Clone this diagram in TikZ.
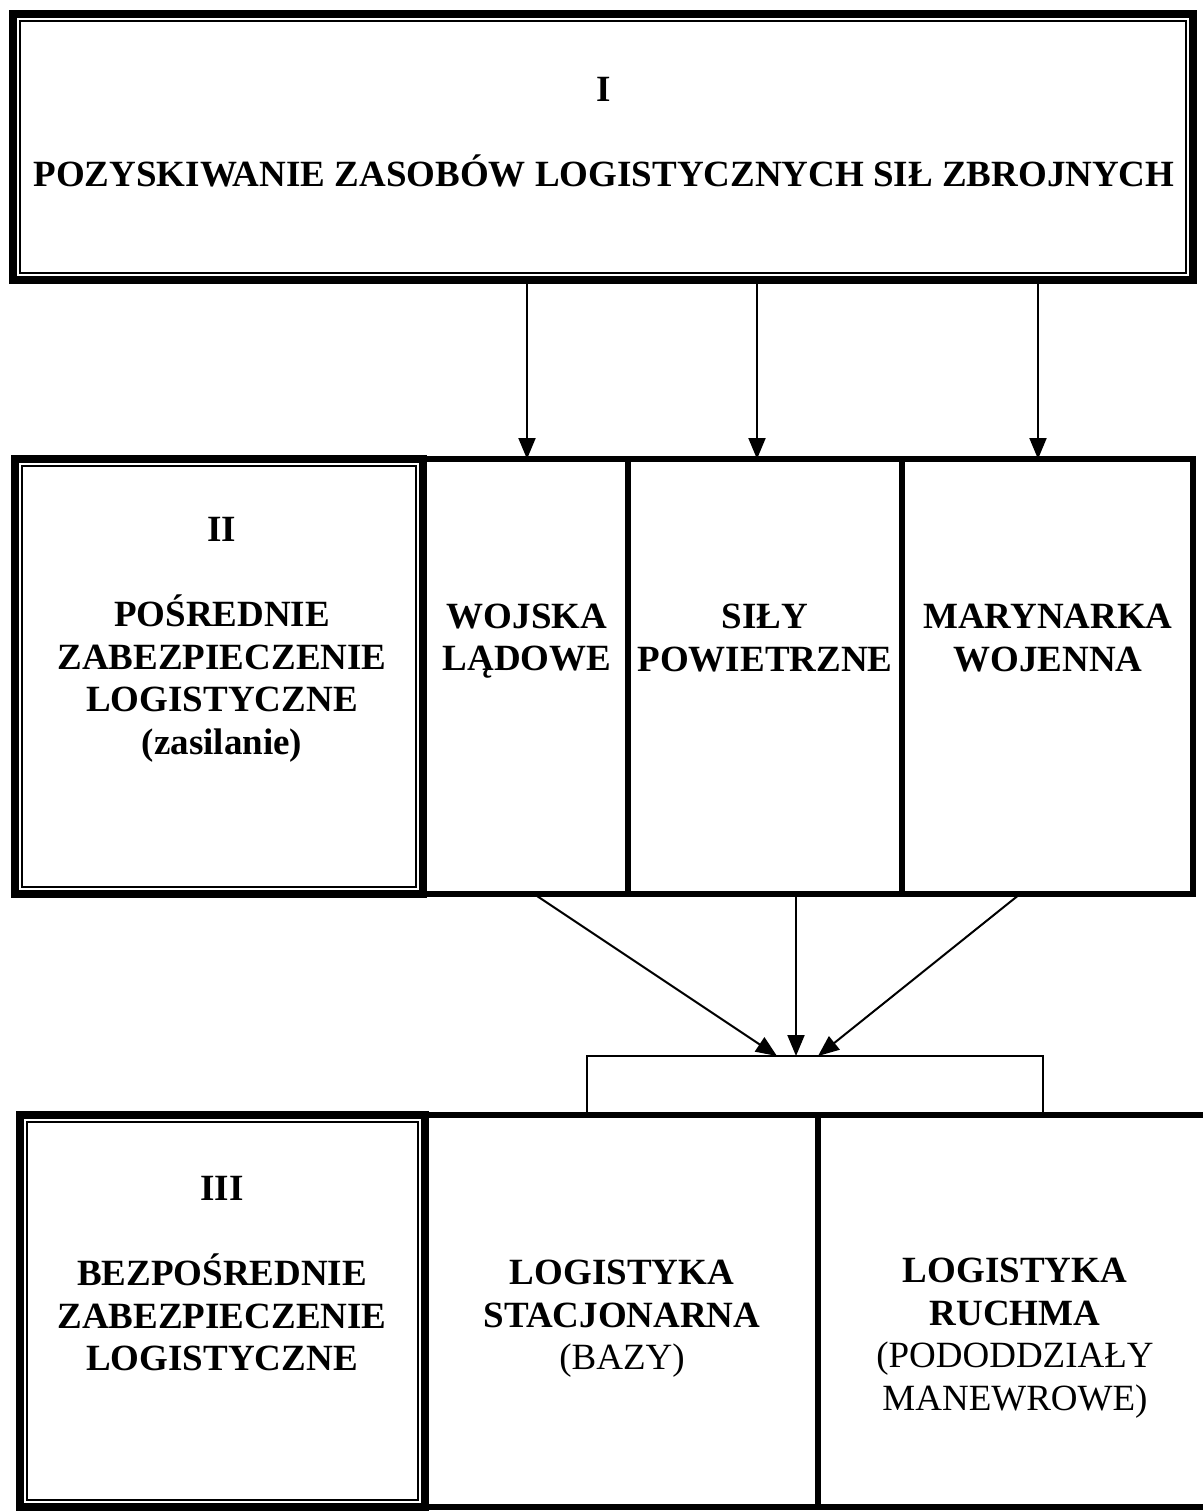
\documentclass[tikz,border=0pt]{standalone}
\usepackage{fontspec}
\setmainfont{Liberation Serif}
\usetikzlibrary{arrows.meta}

\begin{document}
\begin{tikzpicture}[x=1pt, y=-1pt,
    ramka/.style={draw, line width=7.5pt, inner sep=0pt, outer sep=0pt},
    pole/.style={draw, line width=6pt, inner sep=0pt, outer sep=0pt},
    maly/.style={draw, line width=1.4pt, inner sep=0pt, outer sep=0pt},
    napis/.style={align=center, inner sep=0pt, font=\fontsize{37}{42.5}\selectfont\bfseries},
    strz/.style={-{Triangle[length=21pt,width=17pt]}, line width=2pt}]
    \useasboundingbox (0,0) rectangle (1202,1511);
    % Level I
    \node[ramka, minimum width=1180pt, minimum height=266pt] (zasoby) at (603,147) {};
    \node[napis] (t1) at (604,132) {I\\[42.5pt]POZYSKIWANIE ZASOBÓW LOGISTYCZNYCH SIŁ ZBROJNYCH};
    % Level II
    \node[pole, minimum width=205pt, minimum height=435pt] (wojska) at (525.5,676.5) {};
    \node[pole, minimum width=274pt, minimum height=435pt] (sily) at (765,676.5) {};
    \node[pole, minimum width=291pt, minimum height=435pt] (marynarka) at (1047.5,676.5) {};
    \node[ramka, minimum width=408pt, minimum height=435pt] (posrednie) at (219,676.5) {};
    \node[napis] (t2) at (222,640) {II\\[42.5pt]POŚREDNIE\\ZABEZPIECZENIE\\LOGISTYCZNE\\(zasilanie)};
    \node[napis] (t3) at (527,641) {WOJSKA\\LĄDOWE};
    \node[napis] (t4) at (765,638) {SIŁY\\POWIETRZNE};
    \node[napis] (t5) at (1048,638) {MARYNARKA\\WOJENNA};
    % Level III
    \node[maly, minimum width=456pt, minimum height=59pt] (wezel) at (815,1085.5) {};
    \node[pole, minimum width=393pt, minimum height=392pt] (stacjonarna) at (621.5,1311) {};
    \node[pole, minimum width=394pt, minimum height=392pt] (ruchma) at (1015,1311) {};
    \node[ramka, minimum width=405pt, minimum height=392pt] (bezposrednie) at (222.5,1311) {};
    \node[napis] (t6) at (222,1274) {III\\[42.5pt]BEZPOŚREDNIE\\ZABEZPIECZENIE\\LOGISTYCZNE};
    \node[napis] (t7) at (622,1319) {LOGISTYKA\\STACJONARNA\\{\mdseries(BAZY)}};
    \node[napis] (t8) at (1015,1338) {LOGISTYKA\\RUCHMA\\{\mdseries(PODODDZIAŁY}\\{\mdseries MANEWROWE)}};
    % Thin inner frames
    \foreach \n in {zasoby,posrednie,bezposrednie}
      \draw[line width=1.4pt] ([shift={(7,7)}]\n.north west) rectangle ([shift={(-7,-7)}]\n.south east);
    % Arrows I -> II
    \draw[strz] ([xshift=1.5pt]wojska.north |- zasoby.south) -- ([xshift=1.5pt]wojska.north);
    \draw[strz] ([xshift=-8pt]sily.north |- zasoby.south) -- ([xshift=-8pt]sily.north);
    \draw[strz] ([xshift=-9.5pt]marynarka.north |- zasoby.south) -- ([xshift=-9.5pt]marynarka.north);
    % Arrows II -> III
    \draw[strz] ([xshift=8.5pt]wojska.south) -- ([xshift=-38pt]wezel.north);
    \draw[strz] ([xshift=31pt]sily.south) -- ([xshift=-19pt]wezel.north);
    \draw[strz] ([xshift=-27.5pt]marynarka.south) -- ([xshift=3pt]wezel.north);
\end{tikzpicture}
\end{document}
